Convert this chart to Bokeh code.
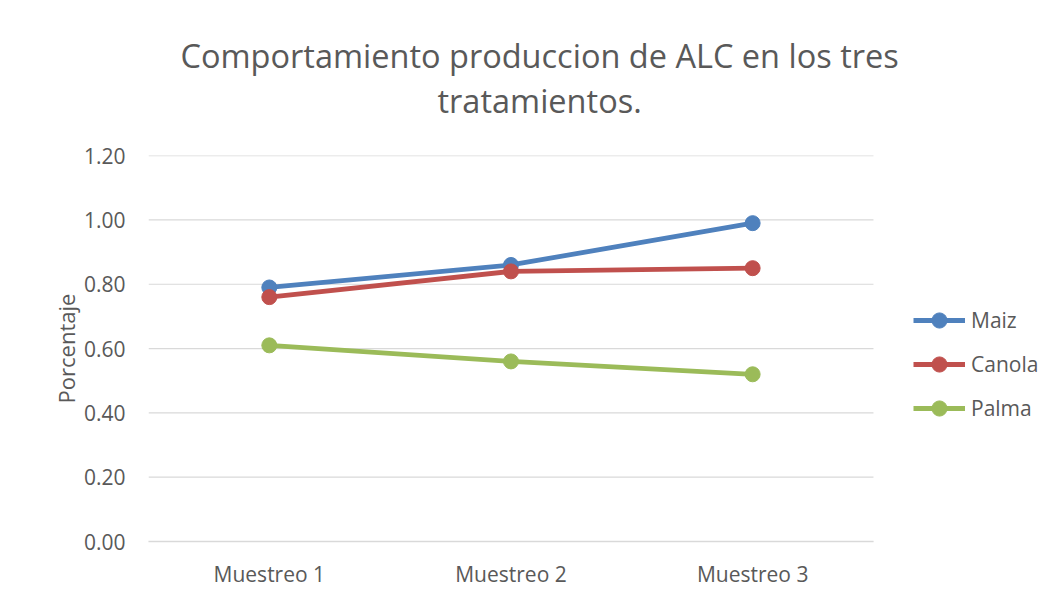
from bokeh.plotting import figure
from bokeh.models import (Range1d, FixedTicker, NumeralTickFormatter,
                          Legend, LegendItem, Title, ColumnDataSource)
from bokeh.embed import file_html
from bokeh.resources import INLINE

categories = ["Muestreo 1", "Muestreo 2", "Muestreo 3"]
maiz = [0.79, 0.86, 0.99]
canola = [0.76, 0.84, 0.85]
palma = [0.61, 0.56, 0.52]
y_ticks = [0.0, 0.2, 0.4, 0.6, 0.8, 1.0, 1.2]
series_names = ["Maiz", "Canola", "Palma"]
series_colors = ["#4F81BD", "#C0504D", "#9BBB59"]
title_lines = ["Comportamiento produccion de ALC en los tres", "tratamientos."]

FONT = "Open Sans"
TXT = "#595959"
FS = "21px"

# category slots: each category occupies one unit, centred at i + 0.5
x_pos = [i + 0.5 for i in range(len(categories))]
n_cat = len(categories)

src = ColumnDataSource(dict(x=x_pos, Maiz=maiz, Canola=canola, Palma=palma))

p = figure(width=1053, height=597, x_range=Range1d(0, 3.745),
           y_range=Range1d(0, 1.2004), output_backend="svg", toolbar_location=None,
           min_border_left=148, min_border_right=0, min_border_bottom=56,
           min_border_top=155)
p.outline_line_color = None
p.background_fill_color = "white"
p.border_fill_color = "white"

# titles (last added is outermost)
p.add_layout(Title(text=title_lines[1], align="left", offset=289, text_font=FONT,
                   text_font_size="32.5px", text_font_style="normal", text_color=TXT,
                   standoff=66), "above")
p.add_layout(Title(text=title_lines[0], align="left", offset=32, text_font=FONT,
                   text_font_size="32.5px", text_font_style="normal", text_color=TXT,
                   standoff=-70), "above")

# y axis
p.yaxis.ticker = FixedTicker(ticks=y_ticks)
p.yaxis.formatter = NumeralTickFormatter(format="0.00")
p.yaxis.axis_line_color = None
p.yaxis.major_tick_line_color = None
p.yaxis.minor_tick_line_color = None
p.yaxis.major_tick_out = 0
p.yaxis.major_label_standoff = 23
p.yaxis.major_label_text_font = FONT
p.yaxis.major_label_text_font_size = FS
p.yaxis.major_label_text_color = TXT
p.yaxis.axis_label = "Porcentaje"
p.yaxis.axis_label_text_font = FONT
p.yaxis.axis_label_text_font_size = "22px"
p.yaxis.axis_label_text_font_style = "normal"
p.yaxis.axis_label_text_color = TXT
p.yaxis.axis_label_standoff = 0

# x axis (categories)
p.xaxis.ticker = FixedTicker(ticks=x_pos)
p.xaxis.major_label_overrides = {x: c for x, c in zip(x_pos, categories)}
p.xaxis.bounds = (0, n_cat)
p.xaxis.axis_line_color = "#d9d9d9"
p.xaxis.axis_line_width = 1.5
p.xaxis.major_tick_line_color = None
p.xaxis.minor_tick_line_color = None
p.xaxis.major_tick_out = 0
p.xaxis.minor_tick_out = 0
p.xaxis.major_label_standoff = 18
p.xaxis.major_label_text_font = FONT
p.xaxis.major_label_text_font_size = FS
p.xaxis.major_label_text_color = TXT

# horizontal gridlines limited to the category area
p.grid.visible = False
p.segment(x0=[0] * len(y_ticks), x1=[n_cat] * len(y_ticks), y0=y_ticks, y1=y_ticks,
          line_color="#d9d9d9", line_width=1.2)

items = []
for name, color in zip(series_names, series_colors):
    l = p.line("x", name, source=src, line_color=color, line_width=4.8)
    c = p.scatter("x", name, source=src, marker="circle", size=15,
                  fill_color=color, line_color=color)
    items.append(LegendItem(label=name, renderers=[l, c]))

legend = Legend(items=items, location=(765, 114), orientation="vertical",
                glyph_width=52, glyph_height=38, label_height=38, spacing=6,
                padding=0, margin=0, label_standoff=6,
                label_text_font=FONT, label_text_font_size=FS,
                label_text_color=TXT, border_line_color=None,
                background_fill_alpha=0)
p.add_layout(legend, "center")

open("out.html", "w").write(file_html(p, INLINE))
